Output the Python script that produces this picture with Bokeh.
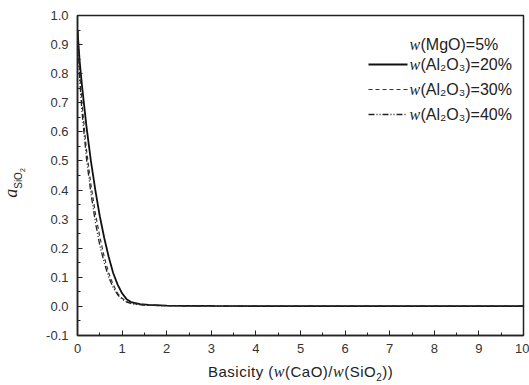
from bokeh.plotting import figure
from bokeh.models import Label, Range1d, NumeralTickFormatter, FixedTicker, Div
from bokeh.layouts import column, row
from bokeh.embed import file_html
from bokeh.resources import INLINE

# ---- data ----
basicity = [0, 0.05, 0.1, 0.2, 0.3, 0.4, 0.5, 0.6, 0.7, 0.8, 0.9, 1.0, 1.1, 1.2,
            1.4, 1.6, 2.0, 2.5, 3, 4, 5, 6, 7, 8, 9, 10]
a_al20 = [0.95, 0.84, 0.76, 0.62, 0.50, 0.40, 0.31, 0.235, 0.17, 0.115, 0.075, 0.045,
          0.025, 0.015, 0.008, 0.005, 0.003, 0.002, 0.0015, 0.001, 0.001, 0.001,
          0.001, 0.001, 0.001, 0.001]
a_al30 = [0.95, 0.80, 0.70, 0.54, 0.42, 0.32, 0.24, 0.17, 0.115, 0.075, 0.045, 0.028,
          0.017, 0.011, 0.006, 0.004, 0.0025, 0.002, 0.0015, 0.001, 0.001, 0.001,
          0.001, 0.001, 0.001, 0.001]
a_al40 = [0.95, 0.78, 0.67, 0.51, 0.39, 0.29, 0.21, 0.15, 0.10, 0.065, 0.04, 0.025,
          0.015, 0.010, 0.006, 0.004, 0.0025, 0.002, 0.0015, 0.001, 0.001, 0.001,
          0.001, 0.001, 0.001, 0.001]
x_ticks = list(range(0, 11))
y_ticks = [round(-0.1 + 0.1 * i, 1) for i in range(12)]
legend_title = "(MgO)=5%"
legend_labels = ["(Al₂O₃)=20%", "(Al₂O₃)=30%", "(Al₂O₃)=40%"]

W, H = 529, 385
YL_W = 30          # width of the y-title strip
XL_H = 25          # height of the x-title strip
PW, PH = W - YL_W, H - XL_H
L, R, T, B = 77 - YL_W, 6, 15, 25
x0, x1 = 0, 10
y0, y1 = -0.1, 1.0
fw, fh = PW - L - R, PH - T - B


def dx(px):
    return x0 + (px - 77) / fw * (x1 - x0)


def dy(py):
    return y0 + (PH - B - py) / fh * (y1 - y0)


p = figure(width=PW, height=PH, output_backend="svg", toolbar_location=None,
           x_range=Range1d(x0, x1), y_range=Range1d(y0, y1),
           min_border_left=L, min_border_right=R, min_border_top=T,
           min_border_bottom=B, margin=0)
p.background_fill_color = "white"
p.border_fill_color = "white"
p.outline_line_color = "#222222"
p.outline_line_width = 1.5
p.xgrid.visible = False
p.ygrid.visible = False

for ax in (p.xaxis[0], p.yaxis[0]):
    ax.axis_line_color = "#222222"
    ax.axis_line_width = 1.5
    ax.major_tick_in = 5
    ax.major_tick_out = 0
    ax.minor_tick_in = 3
    ax.minor_tick_out = 0
    ax.major_tick_line_color = "#222222"
    ax.minor_tick_line_color = "#222222"
    ax.major_label_text_font = "Liberation Sans"
    ax.major_label_text_font_size = "13px"
    ax.major_label_text_color = "#333333"
p.yaxis.major_label_standoff = 9
p.xaxis.major_label_standoff = 8

p.xaxis.ticker = FixedTicker(ticks=x_ticks, minor_ticks=[i + 0.5 for i in range(10)])
p.yaxis.ticker = FixedTicker(ticks=y_ticks,
                             minor_ticks=[round(-0.05 + 0.1 * i, 2) for i in range(11)])
p.yaxis.formatter = NumeralTickFormatter(format="0.0")
p.xaxis.formatter = NumeralTickFormatter(format="0")

p.line(basicity, a_al20, line_color="#111111", line_width=1.8)
p.line(basicity, a_al30, line_color="#333333", line_width=1.2, line_dash="4 3")
p.line(basicity, a_al40, line_color="#222222", line_width=1.3, line_dash="6 2 1 2 1 2")

# ---- legend (manual) ----
rows_py = [44, 64, 89, 114]
styles = [None,
          dict(line_color="#111111", line_width=1.8),
          dict(line_color="#333333", line_width=1.2, line_dash="4 3"),
          dict(line_color="#222222", line_width=1.3, line_dash="6 2 1 2 1 2")]
texts = [legend_title] + legend_labels
for py, st, t in zip(rows_py, styles, texts):
    if st is not None:
        p.line([dx(368), dx(407)], [dy(py), dy(py)], **st)
    p.add_layout(Label(x=dx(409), y=dy(py), text="w", text_font="Liberation Serif",
                       text_font_style="italic", text_font_size="16px",
                       text_baseline="middle", text_align="left", text_color="#222222"))
    p.add_layout(Label(x=dx(420), y=dy(py), text=t, text_font="Liberation Sans",
                       text_font_size="16px", text_baseline="middle",
                       text_align="left", text_color="#222222"))

# ---- axis titles as HTML ----
serif_i = "font-family:'Liberation Serif';font-style:italic;font-size:16px;"
xhtml = ("<div style=\"position:relative;width:%dpx;height:%dpx;\">"
         "<div style=\"position:absolute;left:208px;top:3px;white-space:nowrap;"
         "letter-spacing:0.5px;"
         "font-family:'Liberation Sans';font-size:15px;color:#222222;line-height:18px;\">"
         "Basicity (<span style=\"%s\">w</span>(CaO)/<span style=\"%s\">w</span>"
         "(SiO<sub style=\"font-size:10px;\">2</sub>))</div></div>") % (W, XL_H, serif_i, serif_i)
yhtml = ("<div style=\"position:relative;width:%dpx;height:%dpx;\">"
         "<div style=\"position:absolute;left:17px;top:183px;white-space:nowrap;"
         "transform:translate(-50%%,-50%%) rotate(-90deg);line-height:20px;color:#222222;"
         "font-family:'Liberation Serif';font-style:italic;font-size:18px;\">a"
         "<sub style=\"font-family:'Liberation Sans';font-style:normal;font-size:10px;\">"
         "SiO<sub style=\"font-size:7px;\">2</sub></sub></div></div>") % (YL_W, PH)

xdiv = Div(text=xhtml, width=W, height=XL_H, margin=0)
ydiv = Div(text=yhtml, width=YL_W, height=PH, margin=0)

layout = column(row(ydiv, p, spacing=0, margin=0), xdiv, spacing=0, margin=0)

open("out.html", "w").write(file_html(layout, INLINE))
